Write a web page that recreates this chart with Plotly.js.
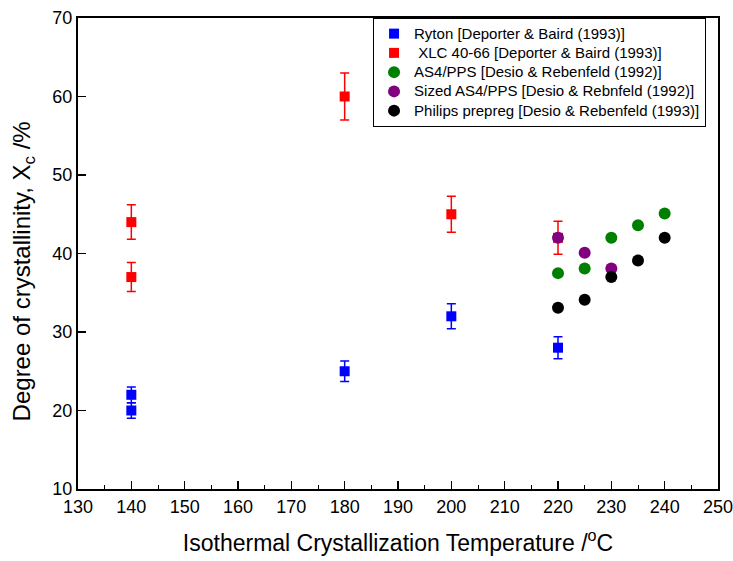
<!DOCTYPE html>
<html>
<head>
<meta charset="utf-8">
<script src="https://cdn.plot.ly/plotly-3.0.1.min.js"></script>
<style>html,body{margin:0;padding:0;background:#fff;}#chart{width:733px;height:561px;}</style>
</head>
<body>
<div id="chart"></div>
<script>
// Data
const rytonX = [140, 140, 180, 200, 220];
const rytonY = [22, 20, 25, 32, 28];
const rytonErr = [1, 1, 1.3, 1.6, 1.4];

const xlcX = [140, 140, 180, 200, 220];
const xlcY = [44, 37, 60, 45, 42];
const xlcErr = [2.2, 1.85, 3, 2.3, 2.1];

const as4X = [220, 225, 230, 235, 240];
const as4Y = [37.5, 38.1, 42, 43.6, 45.1];

const sizedX = [220, 225, 230];
const sizedY = [42, 40.1, 38.1];

const philipsX = [220, 225, 230, 235, 240];
const philipsY = [33.1, 34.1, 37, 39.1, 42];

const names = [
  'Ryton [Deporter &amp; Baird (1993)]',
  ' XLC 40-66 [Deporter &amp; Baird (1993)]',
  'AS4/PPS [Desio &amp; Rebenfeld (1992)]',
  'Sized AS4/PPS [Desio &amp; Rebnfeld (1992)]',
  'Philips prepreg [Desio &amp; Rebenfeld (1993)]'
];

const font = 'Liberation Sans, Arial, sans-serif';
const lg = s => '<span style="font-size:15px">' + s + '</span>';

const traces = [
  {x: rytonX, y: rytonY, name: lg(names[0]), type: 'scatter', mode: 'markers',
   marker: {symbol: 'square', size: 10, color: '#0000ff'},
   error_y: {type: 'data', array: rytonErr, visible: true, color: '#0000ff', thickness: 1.5, width: 4.5}},
  {x: xlcX, y: xlcY, name: lg(names[1]), type: 'scatter', mode: 'markers',
   marker: {symbol: 'square', size: 10, color: '#ff0000'},
   error_y: {type: 'data', array: xlcErr, visible: true, color: '#ff0000', thickness: 1.5, width: 4.5}},
  {x: as4X, y: as4Y, name: lg(names[2]), type: 'scatter', mode: 'markers',
   marker: {symbol: 'circle', size: 12, color: '#008000'}},
  {x: sizedX, y: sizedY, name: lg(names[3]), type: 'scatter', mode: 'markers',
   marker: {symbol: 'circle', size: 12, color: '#800080'}},
  {x: philipsX, y: philipsY, name: lg(names[4]), type: 'scatter', mode: 'markers',
   marker: {symbol: 'circle', size: 12, color: '#000000'}}
];

const layout = {
  width: 733, height: 561,
  margin: {l: 78, r: 15, t: 18, b: 72, pad: 0},
  paper_bgcolor: '#fff', plot_bgcolor: '#fff',
  font: {family: font, color: '#000'},
  showlegend: true,
  legend: {
    x: 0.461, y: 1, xanchor: 'left', yanchor: 'top',
    bgcolor: '#fff', bordercolor: '#000', borderwidth: 1,
    font: {family: font, size: 12.5, color: '#000'},
    tracegroupgap: 0
  },
  xaxis: {
    range: [130, 250], dtick: 10, tick0: 130,
    showgrid: false, zeroline: false,
    showline: true, linecolor: '#000', linewidth: 2, mirror: true,
    ticks: 'inside', ticklen: 8, tickwidth: 1.5, tickcolor: '#000',
    minor: {dtick: 5, ticks: 'inside', ticklen: 4, tickwidth: 1, tickcolor: '#000', showgrid: false},
    tickfont: {family: font, size: 18, color: '#000'},
    ticklabeloverflow: 'allow',
    title: {text: 'Isothermal Crystallization Temperature /<sup>o</sup>C', font: {family: font, size: 23, color: '#000'}, standoff: 19}
  },
  yaxis: {
    range: [10, 70], dtick: 10,
    showgrid: false, zeroline: false,
    showline: true, linecolor: '#000', linewidth: 2, mirror: true,
    ticks: 'inside', ticklen: 8, tickwidth: 1.5, tickcolor: '#000',
    tickfont: {family: font, size: 18, color: '#000'},
    ticklabeloverflow: 'allow'
  },
  annotations: [{
    text: 'Degree of crystallinity, X<sub>c</sub> /%',
    xref: 'paper', yref: 'paper', x: 0, y: 0.462,
    xanchor: 'center', yanchor: 'middle', xshift: -55,
    textangle: -90, showarrow: false,
    font: {family: font, size: 24, color: '#000'}
  }]
};

Plotly.newPlot('chart', traces, layout, {displayModeBar: false, staticPlot: true});
</script>
</body>
</html>
